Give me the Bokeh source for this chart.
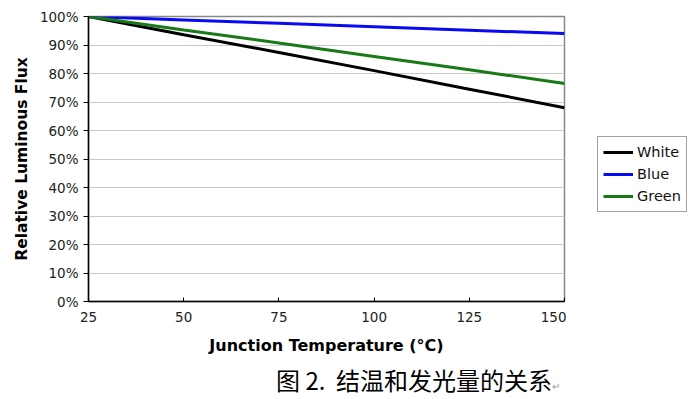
from bokeh.plotting import figure
from bokeh.layouts import column, row
from bokeh.models import Legend, LegendItem, Div, FixedTicker, Range1d
from bokeh.embed import file_html
from bokeh.resources import INLINE

temps = [25, 50, 75, 100, 125, 150]
white = [100, 93.6, 87.4, 81.0, 74.5, 68.0]
blue = [100, 98.8, 97.6, 96.4, 95.2, 94.0]
green = [100, 95.3, 90.7, 86.0, 81.3, 76.5]
series_names = ["White", "Blue", "Green"]
y_ticks = [0, 10, 20, 30, 40, 50, 60, 70, 80, 90, 100]
x_ticks = [25, 50, 75, 100, 125, 150]
caption = "图 2.&nbsp; 结温和发光量的关系"

p = figure(width=566, height=360, output_backend="svg", toolbar_location=None,
           x_range=Range1d(25, 150), y_range=Range1d(0, 100),
           min_border_left=88, min_border_right=2, min_border_top=16, min_border_bottom=59)
p.background_fill_color = "white"
p.border_fill_color = "white"
p.outline_line_color = "#888888"
p.outline_line_width = 1.5

p.xgrid.visible = False
p.ygrid.ticker = FixedTicker(ticks=y_ticks)
p.ygrid.grid_line_color = "#c8c8c8"
p.ygrid.grid_line_width = 1

p.yaxis.ticker = FixedTicker(ticks=y_ticks)
p.yaxis.major_label_overrides = {t: f"{t}%" for t in y_ticks}
p.xaxis.ticker = FixedTicker(ticks=x_ticks)
for ax in (p.xaxis[0], p.yaxis[0]):
    ax.axis_line_color = "black"
    ax.axis_line_width = 1.5
    ax.major_tick_line_color = "black"
    ax.minor_tick_line_color = None
    ax.major_label_text_font = "DejaVu Sans"
    ax.major_label_text_font_size = "13.5px"
    ax.major_label_text_color = "#222222"
    ax.axis_label_text_font = "DejaVu Sans"
    ax.axis_label_text_font_style = "bold"
    ax.axis_label_text_color = "black"
p.yaxis.axis_label_text_font_size = "15.5px"
p.xaxis.axis_label_text_font_size = "16px"
p.yaxis.major_tick_out = 5
p.yaxis.major_tick_in = 0
p.yaxis.major_label_standoff = 5
p.yaxis.axis_label = "Relative Luminous Flux"
p.yaxis.axis_label_standoff = 6
p.xaxis.major_tick_in = 4
p.xaxis.major_tick_out = 0
p.xaxis.major_label_standoff = 10
p.xaxis.axis_label = "Junction Temperature (°C)"
p.xaxis.axis_label_standoff = 11

colors = ["black", "#0a0af0", "#177a17"]
for ys, c in zip([white, blue, green], colors):
    p.line(temps, ys, line_color=c, line_width=3)

# legend panel (separate figure to the right, same vertical borders)
lf = figure(width=132, height=360, output_backend="svg", toolbar_location=None,
            x_range=Range1d(0, 1), y_range=Range1d(0, 1),
            min_border_left=0, min_border_right=0, min_border_top=16, min_border_bottom=59)
lf.axis.visible = False
lf.grid.visible = False
lf.outline_line_color = None
lf.background_fill_color = "white"
lf.border_fill_color = "white"

# same series drawn in the legend figure (outside its view) so the legend shows their glyphs
proxies = []
for ys, c in zip([white, blue, green], colors):
    proxies.append(lf.line(temps, ys, line_color=c, line_width=3))

legend = Legend(items=[LegendItem(label=n, renderers=[r]) for n, r in zip(series_names, proxies)],
                location=(31, 89))
legend.border_line_color = "#444444"
legend.border_line_width = 1
legend.background_fill_color = "white"
legend.label_text_font = "DejaVu Sans"
legend.label_text_font_size = "14.5px"
legend.label_text_color = "#111111"
legend.glyph_width = 30
legend.glyph_height = 20
legend.label_height = 20
legend.spacing = 2
legend.padding = 5
legend.margin = 0
legend.label_standoff = 4
lf.add_layout(legend, "center")

cap = Div(text=caption + "<span style='font-size:10px;color:#999999'>&#8629;</span>",
          width=422, height=39, margin=(0, 0, 0, 276),
          styles={"font-family": "'Noto Sans CJK SC'", "font-size": "24px",
                  "line-height": "40px", "color": "black", "white-space": "nowrap"})

layout = column(row(p, lf, spacing=0), cap, spacing=0)
open("out.html", "w").write(file_html(layout, INLINE))
